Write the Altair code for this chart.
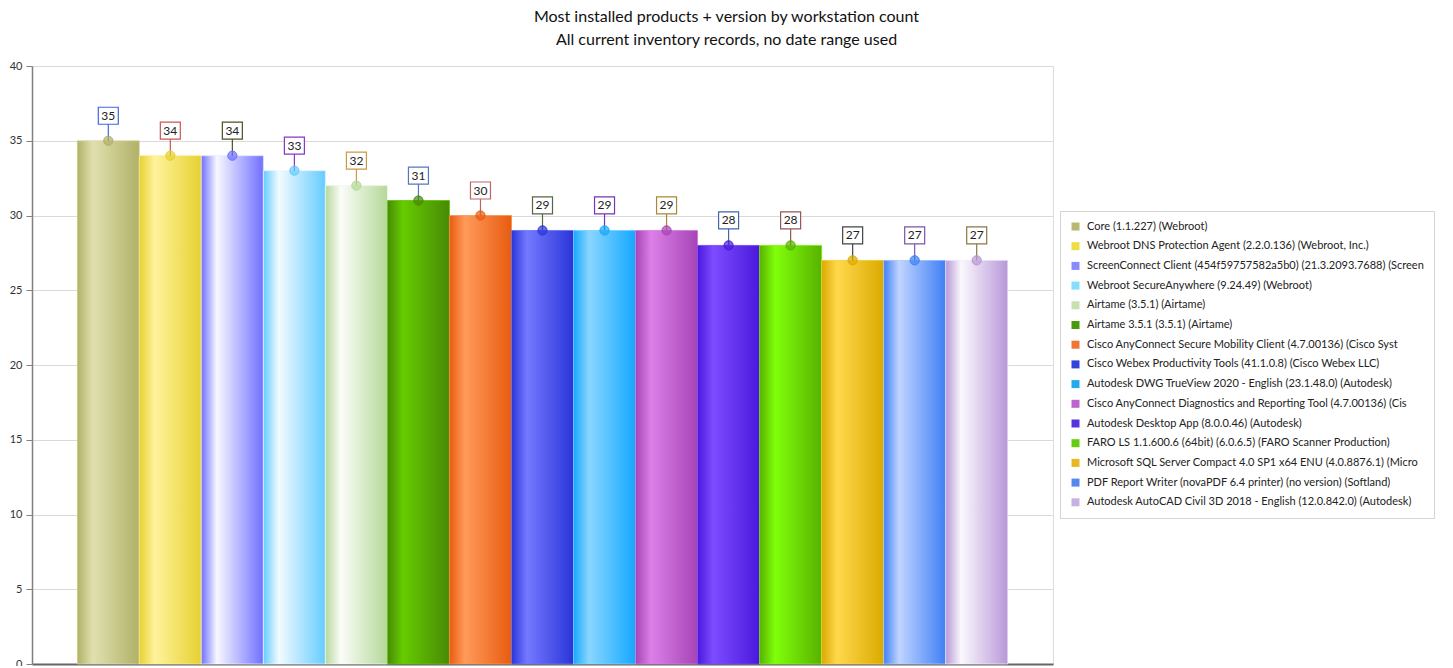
import altair as alt
import pandas as pd

# ---- data ----
PRODUCTS = [
    "Core (1.1.227) (Webroot)",
    "Webroot DNS Protection Agent (2.2.0.136) (Webroot, Inc.)",
    "ScreenConnect Client (454f59757582a5b0) (21.3.2093.7688) (Screen",
    "Webroot SecureAnywhere (9.24.49) (Webroot)",
    "Airtame (3.5.1) (Airtame)",
    "Airtame 3.5.1 (3.5.1) (Airtame)",
    "Cisco AnyConnect Secure Mobility Client  (4.7.00136) (Cisco Syst",
    "Cisco Webex Productivity Tools (41.1.0.8) (Cisco Webex LLC)",
    "Autodesk DWG TrueView 2020 - English (23.1.48.0) (Autodesk)",
    "Cisco AnyConnect Diagnostics and Reporting Tool (4.7.00136) (Cis",
    "Autodesk Desktop App (8.0.0.46) (Autodesk)",
    "FARO LS 1.1.600.6 (64bit) (6.0.6.5) (FARO Scanner Production)",
    "Microsoft SQL Server Compact 4.0 SP1 x64 ENU (4.0.8876.1) (Micro",
    "PDF Report Writer (novaPDF 6.4  printer) (no version) (Softland)",
    "Autodesk AutoCAD Civil 3D 2018 - English (12.0.842.0) (Autodesk)",
]
COUNTS = [35, 34, 34, 33, 32, 31, 30, 29, 29, 29, 28, 28, 27, 27, 27]

TITLE_LINES = [
    "Most installed products + version by workstation count",
    "All current inventory records, no date range used",
]
Y_TICKS = [0, 5, 10, 15, 20, 25, 30, 35, 40]

# ---- styles ----
EDGE = ["#b1b168", "#e6d130", "#7070ff", "#66ccff", "#b5d89a", "#478a06",
        "#e85c10", "#2a35d8", "#14a8ff", "#a644b6", "#4a18dc", "#58b200",
        "#dbaa00", "#3f80f5", "#b898d8"]
LIGHT = ["#e0e0b0", "#fff39c", "#f8f8ff", "#f2fbff", "#fbfdf9", "#66cc00",
         "#ff9a5a", "#7479ff", "#8ad6ff", "#dc80e8", "#7d4cff", "#80ff0a",
         "#ffd84c", "#c0d4ff", "#fbf8fd"]
LEGEND_COLORS = ["#b8b870", "#eedd44", "#8888ff", "#88ddff", "#c8e0b0",
                 "#4a9a10", "#ee7733", "#3344dd", "#22aaee", "#bb66cc",
                 "#5533dd", "#66cc11", "#e8b820", "#5588ee", "#c8b0e0"]
LABEL_BORDER = ["#4466dd", "#cc5555", "#445522", "#8833cc", "#cc9944",
                "#5577bb", "#bb6666", "#556644", "#7733bb", "#aa8833",
                "#4466aa", "#995555", "#444444", "#7755aa", "#887744"]

df = pd.DataFrame({
    "product": PRODUCTS,
    "count": COUNTS,
    "border": LABEL_BORDER,
    "marker": EDGE,
})

FONT = "Lato"

x_enc = alt.X("product:N", sort=PRODUCTS,
              scale=alt.Scale(paddingInner=0, paddingOuter=0.73),
              axis=alt.Axis(title=None, labels=False, ticks=False,
                            domainColor="#666666", domainWidth=2))
y_enc = alt.Y("count:Q",
              scale=alt.Scale(domain=[0, 40], nice=False),
              axis=alt.Axis(title=None, values=Y_TICKS, grid=True,
                            gridColor="#dadada", domainColor="#808080",
                            domainWidth=1.5, tickColor="#808080", tickSize=6,
                            labelPadding=4, labelFont=FONT, labelFontSize=11,
                            labelColor="#333333"))

base = alt.Chart(df)

legend_bars = base.mark_bar().encode(
    x=x_enc, y=y_enc,
    color=alt.Color("product:N",
                    scale=alt.Scale(domain=PRODUCTS, range=LEGEND_COLORS),
                    legend=alt.Legend(
                        title=None, orient="none", legendX=1028, legendY=145,
                        symbolType="square", symbolSize=64,
                        symbolStrokeWidth=0, labelFont=FONT,
                        labelFontSize=11, labelColor="#222222",
                        labelLimit=400, rowPadding=7.7, padding=10,
                        labelOffset=6, strokeColor="#d4d4d4",
                        fillColor="#ffffff")),
)

layers = [legend_bars]
for i, name in enumerate(PRODUCTS):
    grad = {
        "gradient": "linear", "x1": 0, "x2": 1, "y1": 0, "y2": 0,
        "stops": [
            {"offset": 0, "color": EDGE[i]},
            {"offset": 0.25, "color": LIGHT[i]},
            {"offset": 1, "color": EDGE[i]},
        ],
    }
    layers.append(
        base.transform_filter(alt.datum.product == name)
        .mark_bar(stroke=LIGHT[i], strokeWidth=0.8, strokeOpacity=0.8)
        .encode(x=x_enc, y=y_enc, color=alt.value(grad))
    )

rules = base.mark_rule(y2Offset=-17, strokeWidth=1.2).encode(
    x=x_enc, y=y_enc, y2="count:Q",
    stroke=alt.Stroke("border:N", scale=None),
)

boxes = base.mark_point(
    shape="M-1,-0.85H1V0.85H-1Z", size=400, filled=False, fill="white",
    fillOpacity=1, opacity=1, strokeWidth=1.2, yOffset=-25,
).encode(x=x_enc, y=y_enc, stroke=alt.Stroke("border:N", scale=None))

texts = base.mark_text(
    font=FONT, fontSize=12, color="#222222", dy=-25, baseline="middle",
).encode(x=x_enc, y=y_enc, text="count:Q")

markers = base.mark_point(
    shape="circle", size=85, filled=True, fillOpacity=0.7, strokeWidth=1,
    opacity=1,
).encode(
    x=x_enc, y=y_enc,
    fill=alt.Fill("marker:N", scale=None),
    stroke=alt.Stroke("marker:N", scale=None),
)

chart = alt.layer(*layers, rules, boxes, texts, markers).properties(
    width=1021, height=598,
    autosize="none",
    padding={"left": 24, "top": 58, "right": 388, "bottom": 2},
    title=alt.Title(TITLE_LINES, anchor="middle", dx=184, offset=12,
                    font=FONT, fontSize=16, fontWeight="normal",
                    color="#111111", lineHeight=23),
).configure_view(stroke="#dddddd")

chart.save("out.html", embed_options={"renderer": "svg", "actions": False})
